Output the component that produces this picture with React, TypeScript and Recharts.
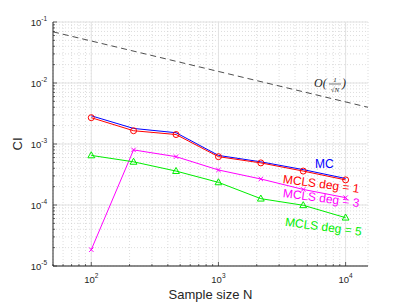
import { LineChart, Line, XAxis, YAxis, CartesianGrid, ReferenceLine, ReferenceDot } from 'recharts';

// sample sizes N (log spaced) and the estimated CI values
const sampleSizes = [100, 215, 464, 1000, 2154, 4642, 10000];
const mcValues = [2.9e-3, 1.8e-3, 1.53e-3, 6.5e-4, 5.1e-4, 3.8e-4, 2.72e-4];
const deg1Values = [2.7e-3, 1.65e-3, 1.43e-3, 6.2e-4, 4.9e-4, 3.6e-4, 2.58e-4];
const deg3Values = [1.85e-5, 8.0e-4, 6.2e-4, 3.75e-4, 2.67e-4, 1.8e-4, 1.32e-4];
const deg5Values = [6.5e-4, 5.1e-4, 3.6e-4, 2.35e-4, 1.27e-4, 9.9e-5, 6.2e-5];

// O(1/sqrt(N)) reference line, read at the ends of the axis
const refN = [50, 15000];
const refValues = [0.069, 0.004];

const xMajor = [100, 1000, 10000];
const yMajor = [1e-5, 1e-4, 1e-3, 1e-2, 1e-1];

const decade = (start: number, end: number) => {
  const out: number[] = [];
  for (let d = start; d <= end; d *= 10) {
    for (let m = 1; m < 10; m++) out.push(m * d);
  }
  return out;
};
const xTicks = [50, 60, 70, 80, 90, ...decade(100, 1000), 10000];
const yTicks = [...decade(1e-5, 1e-2), 1e-1];

const annotations = [
  { text: 'MC', n: 5740, v: 4.7e-4, color: '#0000ff', angle: 0 },
  { text: 'MCLS deg = 1', n: 3220, v: 2.67e-4, color: '#ff0000', angle: 7.5 },
  { text: 'MCLS deg = 3', n: 3220, v: 1.57e-4, color: '#ff00ff', angle: 7.5 },
  { text: 'MCLS deg = 5', n: 3350, v: 5.3e-5, color: '#00ee00', angle: 7.5 },
];

const rows = sampleSizes.map((n, i) => ({
  n,
  mc: mcValues[i],
  deg1: deg1Values[i],
  deg3: deg3Values[i],
  deg5: deg5Values[i],
}));
const refRows = refN.map((n, i) => ({ n, ref: refValues[i] }));

const axisColor = '#262626';
const font = '"Liberation Sans", Arial, sans-serif';

const isMajor = (v: number) => Math.abs(Math.log10(v) - Math.round(Math.log10(v))) < 1e-6;
const expOf = (v: number) => String(Math.round(Math.log10(v)));

const BottomTick = (props: any) => {
  const { x, y, payload } = props;
  const major = isMajor(payload.value);
  return (
    <g>
      <line x1={x} x2={x} y1={y} y2={y - (major ? 4 : 2)} stroke={axisColor} strokeWidth={0.7} />
      {major && (
        <text x={x} y={y + 17} textAnchor="middle" fontSize={9.5} fill={axisColor} fontFamily={font}>
          10<tspan dy={-5} fontSize={6.5}>{expOf(payload.value)}</tspan>
        </text>
      )}
    </g>
  );
};

const TopTick = (props: any) => {
  const { x, y, payload } = props;
  const major = isMajor(payload.value);
  return <line x1={x} x2={x} y1={y} y2={y + (major ? 4 : 2)} stroke={axisColor} strokeWidth={0.7} />;
};

const LeftTick = (props: any) => {
  const { x, y, payload } = props;
  const major = isMajor(payload.value);
  return (
    <g>
      <line x1={x} x2={x + (major ? 4 : 2)} y1={y} y2={y} stroke={axisColor} strokeWidth={0.7} />
      {major && (
        <text x={x - 6} y={y + 4} textAnchor="end" fontSize={9.5} fill={axisColor} fontFamily={font}>
          10<tspan dy={-5} fontSize={6.5}>{expOf(payload.value)}</tspan>
        </text>
      )}
    </g>
  );
};

const RightTick = (props: any) => {
  const { x, y, payload } = props;
  const major = isMajor(payload.value);
  return <line x1={x} x2={x - (major ? 4 : 2)} y1={y} y2={y} stroke={axisColor} strokeWidth={0.7} />;
};

const CircleDot = (props: any) => (
  <circle key={props.index} cx={props.cx} cy={props.cy} r={3} fill="none" stroke="#ff0000" strokeWidth={1} />
);

const CrossDot = (props: any) => {
  const { cx, cy, index } = props;
  const s = 2.2;
  return (
    <path
      key={index}
      d={`M${cx - s},${cy - s}L${cx + s},${cy + s}M${cx - s},${cy + s}L${cx + s},${cy - s}`}
      stroke="#ff00ff"
      strokeWidth={1}
    />
  );
};

const TriangleDot = (props: any) => {
  const { cx, cy, index } = props;
  return (
    <path
      key={index}
      d={`M${cx},${cy - 3.6}L${cx + 3.4},${cy + 2.4}L${cx - 3.4},${cy + 2.4}Z`}
      fill="none"
      stroke="#00ee00"
      strokeWidth={1}
    />
  );
};

const RateLabel = (props: any) => {
  const { cx, cy } = props;
  return (
    <g
      transform={`translate(${cx},${cy})`}
      fill={axisColor}
      fontFamily='"Liberation Serif", "DejaVu Serif", serif'
      fontStyle="italic"
    >
      <text x={0} y={4} fontSize={12}>O(</text>
      <text x={21} y={-1} fontSize={7} textAnchor="middle">1</text>
      <line x1={15} x2={27} y1={1} y2={1} stroke={axisColor} strokeWidth={0.6} />
      <text x={21} y={8.5} fontSize={7} textAnchor="middle">√N</text>
      <text x={28} y={4} fontSize={12}>)</text>
    </g>
  );
};

export default function App() {
  return (
    <div style={{ position: 'absolute', left: 0, top: 0, width: 407, height: 305, background: '#fff' }}>
      <LineChart width={407} height={305} margin={{ top: 22, right: 39, bottom: 0, left: 0 }} style={{ fontFamily: font }}>
        <CartesianGrid stroke="#cfcfcf" strokeDasharray="1 2" strokeWidth={0.7} />
        {xMajor.map((v) => (
          <ReferenceLine key={`gx${v}`} x={v} stroke="#e3e3e3" strokeWidth={1} />
        ))}
        {yMajor.map((v) => (
          <ReferenceLine key={`gy${v}`} y={v} stroke="#e3e3e3" strokeWidth={1} />
        ))}
        <XAxis
          dataKey="n"
          type="number"
          scale="log"
          domain={[50, 15000]}
          allowDataOverflow
          ticks={xTicks}
          interval={0}
          tickSize={0}
          tickMargin={0}
          tick={<BottomTick />}
          tickLine={false}
          height={39}
          axisLine={{ stroke: axisColor }}
          label={{
            content: (p: any) => (
              <text
                x={p.viewBox.x + p.viewBox.width / 2}
                y={p.viewBox.y + 33}
                textAnchor="middle"
                fontSize={13}
                fill={axisColor}
                fontFamily={font}
              >
                Sample size N
              </text>
            ),
          }}
        />
        <XAxis
          xAxisId="top"
          orientation="top"
          type="number"
          scale="log"
          domain={[50, 15000]}
          allowDataOverflow
          ticks={xTicks}
          interval={0}
          tickSize={0}
          tickMargin={0}
          tick={<TopTick />}
          tickLine={false}
          height={0}
          axisLine={{ stroke: axisColor }}
        />
        <YAxis
          type="number"
          scale="log"
          domain={[1e-5, 1e-1]}
          allowDataOverflow
          ticks={yTicks}
          interval={0}
          tickSize={0}
          tickMargin={0}
          tick={<LeftTick />}
          tickLine={false}
          width={53}
          axisLine={{ stroke: axisColor }}
          label={{
            content: (p: any) => {
              const cy = p.viewBox.y + p.viewBox.height / 2;
              return (
                <text
                  x={22}
                  y={cy}
                  transform={`rotate(-90 22 ${cy})`}
                  textAnchor="middle"
                  fontSize={13}
                  fill={axisColor}
                  fontFamily={font}
                >
                  CI
                </text>
              );
            },
          }}
        />
        <YAxis
          yAxisId="right"
          orientation="right"
          type="number"
          scale="log"
          domain={[1e-5, 1e-1]}
          allowDataOverflow
          ticks={yTicks}
          interval={0}
          tickSize={0}
          tickMargin={0}
          tick={<RightTick />}
          tickLine={false}
          width={0}
          axisLine={{ stroke: axisColor }}
        />
        <Line
          data={refRows}
          dataKey="ref"
          stroke="#222"
          strokeWidth={0.8}
          strokeDasharray="6 4"
          dot={false}
          isAnimationActive={false}
        />
        <Line data={rows} dataKey="mc" stroke="#0000ff" strokeWidth={1} dot={false} isAnimationActive={false} />
        <Line data={rows} dataKey="deg1" stroke="#ff0000" strokeWidth={1} dot={<CircleDot />} isAnimationActive={false} />
        <Line data={rows} dataKey="deg3" stroke="#ff00ff" strokeWidth={1} dot={<CrossDot />} isAnimationActive={false} />
        <Line data={rows} dataKey="deg5" stroke="#00ee00" strokeWidth={1} dot={<TriangleDot />} isAnimationActive={false} />
        <ReferenceDot x={5640} y={0.01} r={0} shape={<RateLabel />} />
        {annotations.map((a) => (
          <ReferenceDot
            key={a.text}
            x={a.n}
            y={a.v}
            r={0}
            shape={(p: any) => (
              <text
                x={p.cx}
                y={p.cy + 4}
                transform={`rotate(${a.angle} ${p.cx} ${p.cy})`}
                fontSize={12}
                fill={a.color}
                fontFamily={font}
              >
                {a.text}
              </text>
            )}
          />
        ))}
      </LineChart>
    </div>
  );
}
